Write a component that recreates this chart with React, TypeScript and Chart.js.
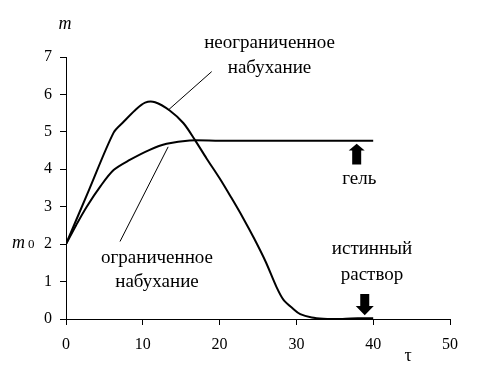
import React, { useEffect, useRef } from "react";
import { Chart, registerables } from "chart.js";

Chart.register(...registerables);

// Unlimited swelling (неограниченное набухание)
const unlimitedTime = [0, 3, 6.2, 7.5, 9, 10.3, 11.6, 13.5, 15.3, 16.8, 18.3, 20, 21.5, 23, 24.5, 26, 27.4, 28.3, 29.6, 30.5, 32, 33.5, 36, 38, 40];
const unlimitedMass = [2, 3.45, 4.98, 5.27, 5.58, 5.78, 5.79, 5.57, 5.23, 4.78, 4.29, 3.76, 3.25, 2.72, 2.15, 1.53, 0.86, 0.52, 0.27, 0.13, 0.04, 0.01, 0.0, 0.02, 0.02];

// Limited swelling (ограниченное набухание)
const limitedTime = [0, 1.3, 2.7, 4.5, 6.2, 8.3, 10.9, 13.1, 16.1, 20, 30, 40];
const limitedMass = [2, 2.5, 3.0, 3.55, 3.98, 4.25, 4.52, 4.68, 4.77, 4.76, 4.76, 4.76];

const xTicks = [0, 10, 20, 30, 40, 50];
const yTicks = [0, 1, 2, 3, 4, 5, 6, 7];

const FONT = '"Liberation Serif", "Times New Roman", serif';

const annotationPlugin = {
  id: "swellingAnnotations",
  afterDatasetsDraw(chart: any) {
    const { ctx, scales, chartArea } = chart;
    const x = scales.x;
    const y = scales.y;
    const px = (v: number) => x.getPixelForValue(v);
    const py = (v: number) => y.getPixelForValue(v);
    ctx.save();
    ctx.strokeStyle = "#000";
    ctx.fillStyle = "#000";
    ctx.lineWidth = 1;

    const seg = (x1: number, y1: number, x2: number, y2: number) => {
      ctx.beginPath();
      ctx.moveTo(px(x1), py(y1));
      ctx.lineTo(px(x2), py(y2));
      ctx.stroke();
    };
    // leader lines
    seg(18.97, 6.61, 13.3, 5.58);
    seg(13.3, 4.6, 7.03, 2.07);

    // texts
    ctx.font = `19px ${FONT}`;
    ctx.textAlign = "center";
    ctx.textBaseline = "alphabetic";
    const txt = (s: string, xv: number, yv: number) => ctx.fillText(s, px(xv), py(yv));
    txt("неограниченное", 26.5, 7.24);
    txt("набухание", 26.5, 6.57);
    txt("ограниченное", 11.85, 1.5);
    txt("набухание", 11.85, 0.86);
    txt("гель", 38.2, 3.6);
    txt("истинный", 39.84, 1.74);
    txt("раствор", 39.84, 1.04);

    // up arrow (gel)
    const ux = px(37.85);
    const uTip = py(4.68);
    const uBase = py(4.5);
    const uEnd = py(4.13);
    ctx.beginPath();
    ctx.moveTo(ux, uTip);
    ctx.lineTo(ux + 8, uBase);
    ctx.lineTo(ux + 4.5, uBase);
    ctx.lineTo(ux + 4.5, uEnd);
    ctx.lineTo(ux - 4.5, uEnd);
    ctx.lineTo(ux - 4.5, uBase);
    ctx.lineTo(ux - 8, uBase);
    ctx.closePath();
    ctx.fill();

    // down arrow (true solution)
    const dx = px(38.9);
    const dTop = py(0.67);
    const dBase = py(0.35);
    const dTip = py(0.1);
    ctx.beginPath();
    ctx.moveTo(dx - 4.5, dTop);
    ctx.lineTo(dx + 4.5, dTop);
    ctx.lineTo(dx + 4.5, dBase);
    ctx.lineTo(dx + 9, dBase);
    ctx.lineTo(dx, dTip);
    ctx.lineTo(dx - 9, dBase);
    ctx.lineTo(dx - 4.5, dBase);
    ctx.closePath();
    ctx.fill();

    // axis titles
    ctx.font = `italic 18px ${FONT}`;
    ctx.textAlign = "center";
    ctx.fillText("m", chartArea.left - 1, 29);
    ctx.textAlign = "left";
    ctx.fillText("m", 12, py(2) + 4);
    ctx.font = `13px ${FONT}`;
    ctx.fillText("0", 28, py(2) + 4);
    ctx.font = `18px ${FONT}`;
    ctx.textAlign = "center";
    ctx.fillText("τ", 408, 361);
    ctx.restore();
  },
};

export default function App() {
  const canvasRef = useRef<HTMLCanvasElement | null>(null);

  useEffect(() => {
    const canvas = canvasRef.current;
    if (!canvas) return;
    const unlimited = unlimitedTime.map((t, i) => ({ x: t, y: unlimitedMass[i] }));
    const limited = limitedTime.map((t, i) => ({ x: t, y: limitedMass[i] }));

    const tickFont = { family: FONT, size: 16 };
    const chart = new Chart(canvas, {
      type: "scatter",
      data: {
        datasets: [
          {
            label: "неограниченное набухание",
            data: unlimited,
            showLine: true,
            borderColor: "#000",
            borderWidth: 2,
            pointRadius: 0,
            tension: 0.3,
          },
          {
            label: "ограниченное набухание",
            data: limited,
            showLine: true,
            borderColor: "#000",
            borderWidth: 2,
            pointRadius: 0,
            tension: 0.3,
          },
        ],
      },
      options: {
        responsive: false,
        animation: false,
        devicePixelRatio: 1,
        layout: { padding: { left: 0, right: 27, top: 57, bottom: 0 } },
        plugins: { legend: { display: false }, tooltip: { enabled: false } },
        scales: {
          x: {
            type: "linear",
            min: 0,
            max: 50,
            afterBuildTicks: (s: any) => {
              s.ticks = xTicks.map((v) => ({ value: v }));
            },
            afterFit: (s: any) => {
              s.height = 60;
            },
            grid: { drawOnChartArea: false, drawTicks: true, tickLength: 6, tickColor: "#000", lineWidth: 1 },
            border: { display: true, color: "#000", width: 1 },
            ticks: { color: "#000", font: tickFont, padding: 10, maxRotation: 0 },
          },
          y: {
            type: "linear",
            min: 0,
            max: 7,
            afterBuildTicks: (s: any) => {
              s.ticks = yTicks.map((v) => ({ value: v }));
            },
            afterFit: (s: any) => {
              s.width = 66;
            },
            grid: { drawOnChartArea: false, drawTicks: true, tickLength: 6, tickColor: "#000", lineWidth: 1 },
            border: { display: true, color: "#000", width: 1 },
            ticks: { color: "#000", font: tickFont, padding: 8 },
          },
        },
      },
      plugins: [annotationPlugin],
    } as any);
    return () => chart.destroy();
  }, []);

  return (
    <div style={{ position: "absolute", left: 0, top: 0, width: 477, height: 379, background: "#fff" }}>
      <canvas ref={canvasRef} width={477} height={379} />
    </div>
  );
}
